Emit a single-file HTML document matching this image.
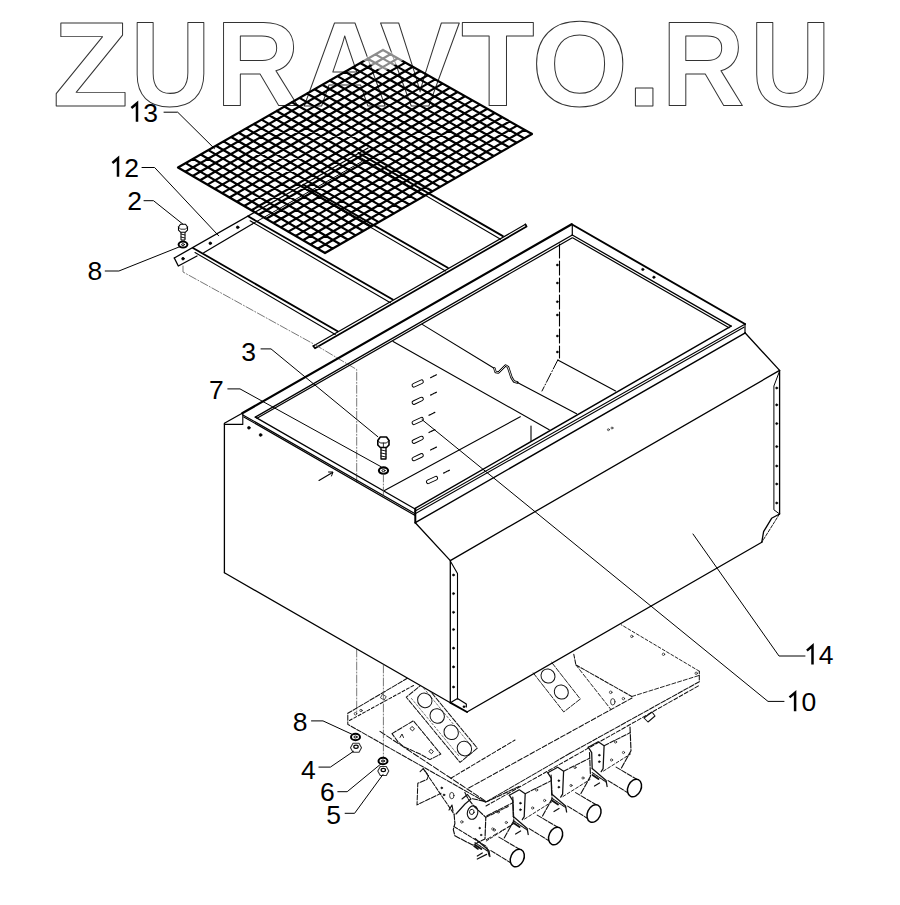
<!DOCTYPE html>
<html><head><meta charset="utf-8"><style>html,body{margin:0;padding:0;background:#fff}svg{display:block}</style></head>
<body><svg width="900" height="905" viewBox="0 0 900 905" stroke-linecap="round" stroke-linejoin="round">
<g font-family="Liberation Sans" font-weight="bold" font-size="120.5" fill="none" stroke="#333" stroke-width="1">
<text x="52" y="106" transform="translate(55.5 0) scale(1.035 1) translate(-55 0)" vector-effect="non-scaling-stroke">Z</text>
<text x="125.59" y="106" transform="translate(136.4 0) scale(0.9205 1) translate(-132 0)" vector-effect="non-scaling-stroke">U</text>
<text x="212.63" y="106" transform="translate(223.3 0) scale(0.968 1) translate(-220.5 0)" vector-effect="non-scaling-stroke">R</text>
<text x="299.64" y="106" transform="translate(333.5 0) scale(1.0 1) translate(-332 0)" vector-effect="non-scaling-stroke">A</text>
<text x="377.72" y="106" transform="translate(380 0) scale(1.0 1) translate(-378 0)" vector-effect="non-scaling-stroke">V</text>
<text x="458.09" y="106" transform="translate(462 0) scale(1.0 1) translate(-459 0)" vector-effect="non-scaling-stroke">T</text>
<text x="529.52" y="106" transform="translate(536 0) scale(1.03 1) translate(-534 0)" vector-effect="non-scaling-stroke">O</text>
<text x="623.25" y="106" transform="translate(635 0) scale(1.03 1) translate(-631 0)" vector-effect="non-scaling-stroke">.</text>
<text x="656.73" y="106" transform="translate(668.5 0) scale(0.956 1) translate(-664 0)" vector-effect="non-scaling-stroke">R</text>
<text x="743.75" y="106" transform="translate(755.8 0) scale(0.927 1) translate(-750 0)" vector-effect="non-scaling-stroke">U</text>
</g>
<polyline points="174.3,258.0 368.0,148.0" fill="none" stroke="#000" stroke-width="1.3" />
<polyline points="252.3,224.0 362.0,161.5" fill="none" stroke="#000" stroke-width="1.0" />
<polyline points="174.3,258.0 178.3,266.0 197.0,256.0" fill="none" stroke="#000" stroke-width="1.3" />
<polyline points="203.7,252.7 252.3,224.0" fill="none" stroke="#000" stroke-width="1.3" />
<circle cx="183.0" cy="258.7" r="1.3" fill="#000" stroke="#000" stroke-width="0.8"/>
<circle cx="210.3" cy="243.3" r="1.3" fill="#000" stroke="#000" stroke-width="0.8"/>
<circle cx="237.7" cy="227.3" r="1.3" fill="#000" stroke="#000" stroke-width="0.8"/>
<polyline points="193.0,248.0 337.6,331.2" fill="none" stroke="#000" stroke-width="1.8" />
<polyline points="195.0,252.5 335.3,334.4" fill="none" stroke="#000" stroke-width="1.1" />
<polyline points="248.1,216.3 392.7,299.5" fill="none" stroke="#000" stroke-width="1.8" />
<polyline points="250.1,220.8 390.4,302.7" fill="none" stroke="#000" stroke-width="1.1" />
<polyline points="303.2,184.6 447.8,267.8" fill="none" stroke="#000" stroke-width="1.8" />
<polyline points="305.2,189.1 445.5,271.0" fill="none" stroke="#000" stroke-width="1.1" />
<polyline points="358.3,152.9 502.9,236.1" fill="none" stroke="#000" stroke-width="1.8" />
<polyline points="360.3,157.4 500.6,239.3" fill="none" stroke="#000" stroke-width="1.1" />
<polyline points="313.3,346.0 525.5,224.3" fill="none" stroke="#000" stroke-width="1.2" />
<polyline points="313.3,346.0 315.0,348.3 526.6,226.6 525.5,224.3" fill="none" stroke="#000" stroke-width="1.7" />
<polyline points="183.0,266.0 183.0,272.0 315.5,345.0 356.7,369.5 356.7,482.0" fill="none" stroke="#555" stroke-width="0.8" stroke-dasharray="8,2,1,2" />
<polyline points="356.7,649.0 356.7,713.0" fill="none" stroke="#555" stroke-width="0.8" stroke-dasharray="8,2,1,2" />
<path d="M178.00,167.50L325.00,253.00M185.59,163.15L332.67,248.59M193.19,158.80L340.33,244.19M200.78,154.44L348.00,239.78M208.37,150.09L355.67,235.37M215.96,145.74L363.33,230.96M223.56,141.39L371.00,226.56M231.15,137.04L378.67,222.15M238.74,132.69L386.33,217.74M246.33,128.33L394.00,213.33M253.93,123.98L401.67,208.93M261.52,119.63L409.33,204.52M269.11,115.28L417.00,200.11M276.70,110.93L424.67,195.70M284.30,106.57L432.33,191.30M291.89,102.22L440.00,186.89M299.48,97.87L447.67,182.48M307.07,93.52L455.33,178.07M314.67,89.17L463.00,173.67M322.26,84.81L470.67,169.26M329.85,80.46L478.33,164.85M337.44,76.11L486.00,160.44M345.04,71.76L493.67,156.04M352.63,67.41L501.33,151.63M360.22,63.06L509.00,147.22M367.81,58.70L516.67,142.81M375.41,54.35L524.33,138.41M383.00,50.00L532.00,134.00M178.00,167.50L383.00,50.00M185.35,171.78L390.45,54.20M192.70,176.05L397.90,58.40M200.05,180.32L405.35,62.60M207.40,184.60L412.80,66.80M214.75,188.88L420.25,71.00M222.10,193.15L427.70,75.20M229.45,197.43L435.15,79.40M236.80,201.70L442.60,83.60M244.15,205.97L450.05,87.80M251.50,210.25L457.50,92.00M258.85,214.53L464.95,96.20M266.20,218.80L472.40,100.40M273.55,223.07L479.85,104.60M280.90,227.35L487.30,108.80M288.25,231.62L494.75,113.00M295.60,235.90L502.20,117.20M302.95,240.18L509.65,121.40M310.30,244.45L517.10,125.60M317.65,248.72L524.55,129.80M325.00,253.00L532.00,134.00" fill="none" stroke="#000" stroke-width="2.2"/>
<polygon points="383,47 362,59.5 383,72 404,59.5" fill="#fff" fill-opacity="0.55"/>
<polyline points="407.8,678.0 347.8,713.3 347.8,724.4 485.6,802.2 570.0,753.3" fill="none" stroke="#111" stroke-width="1.035" stroke-dasharray="5,1.5" />
<polyline points="570.0,753.3 699.3,681.7 699.3,671.2" fill="none" stroke="#111" stroke-width="1.035" stroke-dasharray="5,1.5" />
<polyline points="699.3,671.2 621.3,624.8" fill="none" stroke="#111" stroke-width="0.9199999999999999" stroke-dasharray="3,2" />
<polyline points="349.5,720.5 414.6,684.9" fill="none" stroke="#111" stroke-width="1.035" stroke-dasharray="3,2" />
<polyline points="468.7,788.0 632.0,698.0" fill="none" stroke="#111" stroke-width="1.035" stroke-dasharray="5,2" />
<polyline points="450.9,778.2 515.0,740.0" fill="none" stroke="#111" stroke-width="1.035" stroke-dasharray="4,2" />
<polyline points="486.0,806.0 700.0,685.0" fill="none" stroke="#111" stroke-width="1.035" stroke-dasharray="4,2" />
<circle cx="355.5" cy="713.7" r="1.3" fill="none" stroke="#111" stroke-width="0.7"/>
<circle cx="361.0" cy="710.5" r="1.2" fill="none" stroke="#111" stroke-width="0.7"/>
<rect x="381.5" y="695.3" width="4" height="4" fill="none" stroke="#222" stroke-width="0.7" transform="rotate(30 383.5 697.3)"/>
<g transform="translate(441.8 722.7) rotate(50.5)"><rect x="-42.25" y="-11.2" width="84.5" height="22.4" fill="none" stroke="#111" stroke-width="1.0" stroke-dasharray="5,1.5"/><line x1="-38" y1="-8" x2="38" y2="-8" stroke="#222" stroke-width="0.6" stroke-dasharray="2,2"/><line x1="-38" y1="8" x2="38" y2="8" stroke="#222" stroke-width="0.6" stroke-dasharray="2,2"/></g>
<ellipse cx="424.8" cy="700.4" rx="7.5" ry="7" transform="rotate(50 424.8 700.4)" fill="none" stroke="#111" stroke-width="1.0"/>
<ellipse cx="437.2" cy="716.0" rx="7.5" ry="7" transform="rotate(50 437.2 716.0)" fill="none" stroke="#111" stroke-width="1.0"/>
<ellipse cx="451.2" cy="732.3" rx="7.5" ry="7" transform="rotate(50 451.2 732.3)" fill="none" stroke="#111" stroke-width="1.0"/>
<ellipse cx="464.4" cy="748.6" rx="7.5" ry="7" transform="rotate(50 464.4 748.6)" fill="none" stroke="#111" stroke-width="1.0"/>
<g transform="translate(556 685) rotate(52)"><rect x="-26" y="-10.5" width="52" height="21" fill="none" stroke="#222" stroke-width="0.9" stroke-dasharray="5,1.5"/></g>
<ellipse cx="548.0" cy="676.0" rx="7.3" ry="6.8" transform="rotate(50 548.0 676.0)" fill="none" stroke="#111" stroke-width="1.0"/>
<ellipse cx="561.3" cy="692.0" rx="7.3" ry="6.8" transform="rotate(50 561.3 692.0)" fill="none" stroke="#111" stroke-width="1.0"/>
<polyline points="392.0,733.6 413.4,720.8 440.8,754.1 429.9,759.6 420.0,754.0 404.0,746.9 397.8,741.6 392.0,733.6" fill="none" stroke="#111" stroke-width="1.035" stroke-dasharray="5,1.5" />
<rect x="410.9" y="727.3" width="3" height="3" fill="none" stroke="#111" stroke-width="0.8" transform="rotate(40 412.4 728.8)"/>
<rect x="429.8" y="750.1" width="3" height="3" fill="none" stroke="#111" stroke-width="0.8" transform="rotate(40 431.3 751.6)"/>
<polyline points="400.0,737.5 402.0,734.0 403.5,737.5" fill="none" stroke="#111" stroke-width="0.9199999999999999" />
<polyline points="573.8,654.3 575.9,664.9 631.8,696.5" fill="none" stroke="#111" stroke-width="1.035" stroke-dasharray="4,1.5" />
<polyline points="575.9,664.9 610.7,709.2" fill="none" stroke="#111" stroke-width="0.9199999999999999" stroke-dasharray="4,2" />
<polyline points="631.8,696.5 699.3,675.4" fill="none" stroke="#111" stroke-width="0.9199999999999999" stroke-dasharray="4,2" />
<ellipse cx="612.8" cy="701.8" rx="2.2" ry="3.2" transform="rotate(0 612.8 701.8)" fill="none" stroke="#111" stroke-width="0.8"/>
<circle cx="610.7" cy="692.3" r="1.3" fill="none" stroke="#111" stroke-width="0.7"/>
<circle cx="623.4" cy="698.6" r="1.2" fill="none" stroke="#111" stroke-width="0.7"/>
<circle cx="663.5" cy="654.3" r="1.2" fill="none" stroke="#111" stroke-width="0.7"/>
<circle cx="696.2" cy="673.3" r="1.2" fill="none" stroke="#111" stroke-width="0.7"/>
<circle cx="631.8" cy="636.4" r="1.2" fill="none" stroke="#111" stroke-width="0.7"/>
<polyline points="420.1,771.7 423.2,768.6 428.6,775.5 427.0,779.4 417.8,783.3 417.0,804.9 441.0,793.3" fill="none" stroke="#111" stroke-width="1.035" stroke-dasharray="5,1.5" />
<polyline points="423.2,768.6 454.1,814.2" fill="none" stroke="#111" stroke-width="1.035" stroke-dasharray="4,1.5" />
<circle cx="441.7" cy="787.9" r="0.9" fill="#111" stroke="#111" stroke-width="0.6"/>
<circle cx="444.0" cy="794.9" r="0.9" fill="#111" stroke="#111" stroke-width="0.6"/>
<ellipse cx="451.8" cy="795.6" rx="2.2" ry="3.2" transform="rotate(0 451.8 795.6)" fill="none" stroke="#111" stroke-width="0.8"/>
<polyline points="449.0,810.0 452.0,805.0 453.0,811.0" fill="none" stroke="#111" stroke-width="1.15" />
<polyline points="380.0,731.4 486.6,801.8" fill="none" stroke="#111" stroke-width="1.035" stroke-dasharray="6,2" />
<polyline points="486.9,815.7 512.8,802.8" fill="none" stroke="#111" stroke-width="1.035" stroke-dasharray="5,1.5" />
<polyline points="512.8,797.0 513.8,820.7 503.9,838.6" fill="none" stroke="#111" stroke-width="1.15" stroke-dasharray="6,1.5" />
<polyline points="486.3,841.0 513.3,824.0" fill="none" stroke="#111" stroke-width="0.9199999999999999" stroke-dasharray="3,2" />
<circle cx="494.3" cy="830.0" r="1.1" fill="none" stroke="#111" stroke-width="0.7"/>
<circle cx="506.3" cy="822.5" r="1.1" fill="none" stroke="#111" stroke-width="0.7"/>
<circle cx="498.3" cy="812.0" r="1.1" fill="none" stroke="#111" stroke-width="0.7"/>
<polyline points="475.0,838.6 488.9,850.6 489.9,856.5" fill="none" stroke="#111" stroke-width="1.265" />
<polyline points="475.0,842.6 488.9,852.0" fill="none" stroke="#111" stroke-width="1.035" stroke-dasharray="3,1" />
<polyline points="475.3,845.0 481.3,849.0" fill="none" stroke="#111" stroke-width="1.8399999999999999" />
<polyline points="477.3,856.0 482.3,853.0" fill="none" stroke="#111" stroke-width="1.265" />
<polyline points="498.9,837.1 521.8,850.6" fill="none" stroke="#111" stroke-width="1.035" stroke-dasharray="5,1.5" />
<polyline points="490.9,850.6 511.8,863.5" fill="none" stroke="#111" stroke-width="1.035" stroke-dasharray="5,1.5" />
<ellipse cx="517.3" cy="858.0" rx="6.5" ry="9.2" transform="rotate(25 517.3 858.0)" fill="#fff" stroke="#000" stroke-width="1.5"/>
<polyline points="509.3,795.2 519.3,789.8 525.2,793.7 524.2,816.6 522.3,819.6" fill="none" stroke="#111" stroke-width="1.265" />
<polyline points="509.3,795.2 512.8,800.7 513.3,816.6" fill="none" stroke="#111" stroke-width="1.265" />
<circle cx="520.4" cy="803.2" r="0.9" fill="#111" stroke="#111" stroke-width="0.6"/>
<circle cx="520.4" cy="809.7" r="0.9" fill="#111" stroke="#111" stroke-width="0.6"/>
<polyline points="525.2,793.7 551.1,780.8" fill="none" stroke="#111" stroke-width="1.035" stroke-dasharray="5,1.5" />
<polyline points="551.1,775.0 552.1,798.7 542.2,816.6" fill="none" stroke="#111" stroke-width="1.15" stroke-dasharray="6,1.5" />
<polyline points="524.6,819.0 551.6,802.0" fill="none" stroke="#111" stroke-width="0.9199999999999999" stroke-dasharray="3,2" />
<circle cx="532.6" cy="808.0" r="1.1" fill="none" stroke="#111" stroke-width="0.7"/>
<circle cx="544.6" cy="800.5" r="1.1" fill="none" stroke="#111" stroke-width="0.7"/>
<circle cx="536.6" cy="790.0" r="1.1" fill="none" stroke="#111" stroke-width="0.7"/>
<polyline points="513.3,816.6 527.2,828.6 528.2,834.5" fill="none" stroke="#111" stroke-width="1.265" />
<polyline points="513.3,820.6 527.2,830.0" fill="none" stroke="#111" stroke-width="1.035" stroke-dasharray="3,1" />
<polyline points="513.6,823.0 519.6,827.0" fill="none" stroke="#111" stroke-width="1.8399999999999999" />
<polyline points="515.6,834.0 520.6,831.0" fill="none" stroke="#111" stroke-width="1.265" />
<polyline points="537.2,815.1 560.1,828.6" fill="none" stroke="#111" stroke-width="1.035" stroke-dasharray="5,1.5" />
<polyline points="529.2,828.6 550.1,841.5" fill="none" stroke="#111" stroke-width="1.035" stroke-dasharray="5,1.5" />
<ellipse cx="555.6" cy="836.0" rx="6.5" ry="9.2" transform="rotate(25 555.6 836.0)" fill="#fff" stroke="#000" stroke-width="1.5"/>
<polyline points="547.7,772.7 557.7,767.3 563.6,771.2 562.6,794.1 560.7,797.1" fill="none" stroke="#111" stroke-width="1.265" />
<polyline points="547.7,772.7 551.2,778.2 551.7,794.1" fill="none" stroke="#111" stroke-width="1.265" />
<circle cx="558.8" cy="780.7" r="0.9" fill="#111" stroke="#111" stroke-width="0.6"/>
<circle cx="558.8" cy="787.2" r="0.9" fill="#111" stroke="#111" stroke-width="0.6"/>
<polyline points="563.6,771.2 589.5,758.3" fill="none" stroke="#111" stroke-width="1.035" stroke-dasharray="5,1.5" />
<polyline points="589.5,752.5 590.5,776.2 580.6,794.1" fill="none" stroke="#111" stroke-width="1.15" stroke-dasharray="6,1.5" />
<polyline points="563.0,796.5 590.0,779.5" fill="none" stroke="#111" stroke-width="0.9199999999999999" stroke-dasharray="3,2" />
<circle cx="571.0" cy="785.5" r="1.1" fill="none" stroke="#111" stroke-width="0.7"/>
<circle cx="583.0" cy="778.0" r="1.1" fill="none" stroke="#111" stroke-width="0.7"/>
<circle cx="575.0" cy="767.5" r="1.1" fill="none" stroke="#111" stroke-width="0.7"/>
<polyline points="551.7,794.1 565.6,806.1 566.6,812.0" fill="none" stroke="#111" stroke-width="1.265" />
<polyline points="551.7,798.1 565.6,807.5" fill="none" stroke="#111" stroke-width="1.035" stroke-dasharray="3,1" />
<polyline points="552.0,800.5 558.0,804.5" fill="none" stroke="#111" stroke-width="1.8399999999999999" />
<polyline points="554.0,811.5 559.0,808.5" fill="none" stroke="#111" stroke-width="1.265" />
<polyline points="575.6,792.6 598.5,806.1" fill="none" stroke="#111" stroke-width="1.035" stroke-dasharray="5,1.5" />
<polyline points="567.6,806.1 588.5,819.0" fill="none" stroke="#111" stroke-width="1.035" stroke-dasharray="5,1.5" />
<ellipse cx="594.0" cy="813.5" rx="6.5" ry="9.2" transform="rotate(25 594.0 813.5)" fill="#fff" stroke="#000" stroke-width="1.5"/>
<polyline points="588.2,747.2 598.2,741.8 604.1,745.7 603.1,768.6 601.2,771.6" fill="none" stroke="#111" stroke-width="1.265" />
<polyline points="588.2,747.2 591.7,752.7 592.2,768.6" fill="none" stroke="#111" stroke-width="1.265" />
<circle cx="599.3" cy="755.2" r="0.9" fill="#111" stroke="#111" stroke-width="0.6"/>
<circle cx="599.3" cy="761.7" r="0.9" fill="#111" stroke="#111" stroke-width="0.6"/>
<polyline points="604.1,745.7 630.0,732.8" fill="none" stroke="#111" stroke-width="1.035" stroke-dasharray="5,1.5" />
<polyline points="630.0,727.0 631.0,750.7 621.1,768.6" fill="none" stroke="#111" stroke-width="1.15" stroke-dasharray="6,1.5" />
<polyline points="603.5,771.0 630.5,754.0" fill="none" stroke="#111" stroke-width="0.9199999999999999" stroke-dasharray="3,2" />
<circle cx="611.5" cy="760.0" r="1.1" fill="none" stroke="#111" stroke-width="0.7"/>
<circle cx="623.5" cy="752.5" r="1.1" fill="none" stroke="#111" stroke-width="0.7"/>
<circle cx="615.5" cy="742.0" r="1.1" fill="none" stroke="#111" stroke-width="0.7"/>
<polyline points="592.2,768.6 606.1,780.6 607.1,786.5" fill="none" stroke="#111" stroke-width="1.265" />
<polyline points="592.2,772.6 606.1,782.0" fill="none" stroke="#111" stroke-width="1.035" stroke-dasharray="3,1" />
<polyline points="592.5,775.0 598.5,779.0" fill="none" stroke="#111" stroke-width="1.8399999999999999" />
<polyline points="594.5,786.0 599.5,783.0" fill="none" stroke="#111" stroke-width="1.265" />
<polyline points="616.1,767.1 639.0,780.6" fill="none" stroke="#111" stroke-width="1.035" stroke-dasharray="5,1.5" />
<polyline points="608.1,780.6 629.0,793.5" fill="none" stroke="#111" stroke-width="1.035" stroke-dasharray="5,1.5" />
<ellipse cx="634.5" cy="788.0" rx="6.5" ry="9.2" transform="rotate(25 634.5 788.0)" fill="#fff" stroke="#000" stroke-width="1.5"/>
<polyline points="464.9,792.6 468.0,798.7 474.2,806.5 485.8,817.3 485.0,838.9 472.6,845.1 454.9,835.8 453.3,829.6 454.9,823.5 454.1,814.2" fill="none" stroke="#111" stroke-width="1.15" stroke-dasharray="6,1.5" />
<polyline points="472.6,798.7 486.6,801.8 519.0,786.4" fill="none" stroke="#111" stroke-width="1.15" stroke-dasharray="5,1.5" />
<polyline points="485.8,817.3 508.2,806.5" fill="none" stroke="#111" stroke-width="1.035" stroke-dasharray="4,1.5" />
<ellipse cx="472.6" cy="812.6" rx="5.2" ry="6.8" transform="rotate(15 472.6 812.6)" fill="none" stroke="#111" stroke-width="1.1"/>
<ellipse cx="471.8" cy="811.9" rx="2.3" ry="2.6" transform="rotate(15 471.8 811.9)" fill="none" stroke="#111" stroke-width="0.9"/>
<polyline points="462.0,799.0 467.5,794.5 471.0,799.0 465.0,804.0 456.0,814.0" fill="none" stroke="#111" stroke-width="1.15" />
<circle cx="461.8" cy="821.9" r="1.2" fill="none" stroke="#111" stroke-width="0.7"/>
<circle cx="479.6" cy="828.1" r="0.8" fill="#111" stroke="#111" stroke-width="0.6"/>
<circle cx="481.1" cy="835.0" r="0.8" fill="#111" stroke="#111" stroke-width="0.6"/>
<circle cx="492.7" cy="828.9" r="1.1" fill="none" stroke="#111" stroke-width="0.6"/>
<polyline points="454.1,826.6 486.6,846.6 489.6,857.5" fill="none" stroke="#111" stroke-width="1.035" stroke-dasharray="4,1.5" />
<polyline points="474.0,846.0 478.0,849.0" fill="none" stroke="#111" stroke-width="1.6099999999999999" />
<polyline points="477.3,859.0 486.6,854.4" fill="none" stroke="#111" stroke-width="1.265" />
<polyline points="486.4,839.6 515.0,823.0" fill="none" stroke="#111" stroke-width="0.9199999999999999" stroke-dasharray="5,3" />
<polyline points="644.0,718.0 652.0,712.0 655.0,716.0 648.0,722.0 644.0,718.0" fill="none" stroke="#111" stroke-width="1.035" />
<polygon points="224.4,423.3 415.3,522.7 745.3,332.8 779.6,370.4 779.6,514 761.8,542.2 466,710 450.3,702.7 224.4,572.7" fill="#fff" stroke="none"/>
<polyline points="242.2,413.3 571.7,224.3" fill="none" stroke="#000" stroke-width="2.2" />
<polyline points="571.7,224.3 745.0,324.0" fill="none" stroke="#000" stroke-width="1.9" />
<polyline points="572.3,224.3 572.3,235.0" fill="none" stroke="#000" stroke-width="1.2" />
<polyline points="745.0,324.0 745.0,332.8" fill="none" stroke="#000" stroke-width="1.2" />
<polyline points="255.3,417.1 572.3,235.0" fill="none" stroke="#000" stroke-width="1.3" />
<polyline points="257.0,418.3 572.3,237.8" fill="none" stroke="#000" stroke-width="1.2" />
<polyline points="572.3,235.0 731.1,326.1" fill="none" stroke="#000" stroke-width="1.3" />
<polyline points="573.0,238.0 729.0,327.8" fill="none" stroke="#000" stroke-width="1.2" />
<polyline points="731.1,326.1 414.7,508.7" fill="none" stroke="#000" stroke-width="1.4" />
<polyline points="745.3,323.9 414.7,511.3" fill="none" stroke="#000" stroke-width="1.1" />
<polyline points="743.9,327.2 414.7,514.0" fill="none" stroke="#000" stroke-width="1.1" />
<polyline points="415.3,522.7 745.3,332.8" fill="none" stroke="#000" stroke-width="1.4" />
<polyline points="415.3,508.7 415.3,522.7" fill="none" stroke="#000" stroke-width="2.0" />
<polyline points="242.9,414.9 414.7,513.5" fill="none" stroke="#000" stroke-width="1.2" />
<polyline points="243.8,416.9 414.7,515.3" fill="none" stroke="#000" stroke-width="1.2" />
<polyline points="255.3,417.1 414.7,508.7" fill="none" stroke="#000" stroke-width="1.3" />
<polyline points="224.4,572.7 224.4,423.3 242.2,413.3" fill="none" stroke="#000" stroke-width="1.3" />
<polyline points="224.4,424.4 242.8,424.4 242.8,414.0" fill="none" stroke="#000" stroke-width="1.1" />
<circle cx="248.9" cy="427.8" r="1.4" fill="#000" stroke="#000" stroke-width="0.6"/>
<circle cx="260.6" cy="435.0" r="1.4" fill="#000" stroke="#000" stroke-width="0.6"/>
<polyline points="415.3,522.7 450.3,560.6 779.6,370.4 745.0,332.8" fill="none" stroke="#000" stroke-width="1.3" />
<polyline points="450.3,560.6 450.3,702.7 224.4,572.7" fill="none" stroke="#000" stroke-width="1.3" />
<polyline points="779.6,370.4 779.6,514.0" fill="none" stroke="#000" stroke-width="1.3" />
<polyline points="761.8,542.2 467.0,712.0" fill="none" stroke="#000" stroke-width="1.3" />
<polyline points="450.3,702.7 467.0,712.0" fill="none" stroke="#000" stroke-width="1.9" />
<polyline points="450.3,561.0 457.5,573.5 457.5,699.0" fill="none" stroke="#000" stroke-width="1.1" />
<polyline points="779.6,371.0 773.9,386.0 773.9,509.8 779.6,514.0" fill="none" stroke="#000" stroke-width="1.0" />
<circle cx="453.5" cy="575.0" r="1.1" fill="#000" stroke="#000" stroke-width="0.5"/>
<circle cx="453.5" cy="593.6" r="1.1" fill="#000" stroke="#000" stroke-width="0.5"/>
<circle cx="453.5" cy="612.3" r="1.1" fill="#000" stroke="#000" stroke-width="0.5"/>
<circle cx="453.5" cy="629.5" r="1.1" fill="#000" stroke="#000" stroke-width="0.5"/>
<circle cx="453.5" cy="648.2" r="1.1" fill="#000" stroke="#000" stroke-width="0.5"/>
<circle cx="453.5" cy="666.9" r="1.1" fill="#000" stroke="#000" stroke-width="0.5"/>
<circle cx="453.5" cy="687.0" r="1.1" fill="#000" stroke="#000" stroke-width="0.5"/>
<circle cx="776.7" cy="388.0" r="1.1" fill="#000" stroke="#000" stroke-width="0.5"/>
<circle cx="776.7" cy="404.9" r="1.1" fill="#000" stroke="#000" stroke-width="0.5"/>
<circle cx="776.7" cy="423.6" r="1.1" fill="#000" stroke="#000" stroke-width="0.5"/>
<circle cx="776.7" cy="446.6" r="1.1" fill="#000" stroke="#000" stroke-width="0.5"/>
<circle cx="776.7" cy="466.0" r="1.1" fill="#000" stroke="#000" stroke-width="0.5"/>
<circle cx="776.7" cy="484.0" r="1.1" fill="#000" stroke="#000" stroke-width="0.5"/>
<circle cx="776.7" cy="503.0" r="1.1" fill="#000" stroke="#000" stroke-width="0.5"/>
<polyline points="450.3,702.7 457.5,698.5 466.3,704.0 466.3,707.0" fill="none" stroke="#000" stroke-width="1.2" />
<circle cx="464.0" cy="706.7" r="1.0" fill="#000" stroke="#000" stroke-width="0.6"/>
<polyline points="779.5,514.0 771.6,518.3 763.6,531.6 761.8,542.2" fill="none" stroke="#000" stroke-width="1.3" />
<polyline points="779.5,514.0 761.8,542.2" fill="none" stroke="#000" stroke-width="0.9" stroke-dasharray="3,1.5" />
<circle cx="608.4" cy="429.7" r="1.0" fill="none" stroke="#000" stroke-width="0.6"/>
<circle cx="612.0" cy="428.0" r="1.0" fill="none" stroke="#000" stroke-width="0.6"/>
<circle cx="642.8" cy="269.4" r="1.2" fill="#000" stroke="#000" stroke-width="0.5"/>
<circle cx="653.9" cy="277.2" r="1.2" fill="#000" stroke="#000" stroke-width="0.5"/>
<polyline points="319.0,480.5 332.5,472.5" fill="none" stroke="#000" stroke-width="1.1" />
<polyline points="328.5,472.0 333.0,472.0 331.5,476.0" fill="none" stroke="#000" stroke-width="1.0" />
<polyline points="559.5,244.0 559.5,358.0" fill="none" stroke="#000" stroke-width="1.1" stroke-dasharray="14,3" />
<circle cx="557.3" cy="265.0" r="1.0" fill="#000" stroke="#000" stroke-width="0.5"/>
<circle cx="557.3" cy="283.0" r="1.0" fill="#000" stroke="#000" stroke-width="0.5"/>
<circle cx="557.3" cy="301.7" r="1.0" fill="#000" stroke="#000" stroke-width="0.5"/>
<circle cx="557.3" cy="315.0" r="1.0" fill="#000" stroke="#000" stroke-width="0.5"/>
<circle cx="557.3" cy="336.0" r="1.0" fill="#000" stroke="#000" stroke-width="0.5"/>
<circle cx="557.3" cy="352.0" r="1.0" fill="#000" stroke="#000" stroke-width="0.5"/>
<polyline points="557.8,360.0 615.6,391.0" fill="none" stroke="#000" stroke-width="1.1" />
<polyline points="557.8,360.0 542.0,391.0" fill="none" stroke="#000" stroke-width="1.0" stroke-dasharray="10,2,1,2" />
<polyline points="393.1,341.6 549.2,429.7" fill="none" stroke="#000" stroke-width="1.1" />
<polyline points="422.2,324.4 494.5,368.5" fill="none" stroke="#000" stroke-width="1.1" />
<polyline points="494.5,368.5 495.5,372.0 498.5,372.5 505.5,365.5 508.0,367.0 511.5,377.5 514.0,381.5 517.4,382.5" fill="none" stroke="#000" stroke-width="2.4" />
<polyline points="494.5,368.5 495.5,372.0 498.5,372.5 505.5,365.5 508.0,367.0 511.5,377.5 514.0,381.5 517.4,382.5" fill="none" stroke="#fff" stroke-width="0.8" />
<polyline points="517.4,382.5 576.6,413.8" fill="none" stroke="#000" stroke-width="1.1" />
<polyline points="520.3,416.7 384.5,490.4" fill="none" stroke="#000" stroke-width="1.1" />
<polyline points="531.0,426.0 531.0,441.3" fill="none" stroke="#000" stroke-width="1.1" />
<rect x="411.7" y="381.7" width="12" height="3.6" rx="1.8" transform="rotate(-25 417.7 383.5)" fill="none" stroke="#000" stroke-width="1"/>
<rect x="411.7" y="399.0" width="12" height="3.6" rx="1.8" transform="rotate(-25 417.7 400.8)" fill="none" stroke="#000" stroke-width="1"/>
<rect x="411.7" y="419.2" width="12" height="3.6" rx="1.8" transform="rotate(-25 417.7 421)" fill="none" stroke="#000" stroke-width="1"/>
<rect x="411.7" y="438.0" width="12" height="3.6" rx="1.8" transform="rotate(-25 417.7 439.8)" fill="none" stroke="#000" stroke-width="1"/>
<rect x="411.7" y="455.4" width="12" height="3.6" rx="1.8" transform="rotate(-25 417.7 457.2)" fill="none" stroke="#000" stroke-width="1"/>
<rect x="426.0" y="478.2" width="12" height="3.6" rx="1.8" transform="rotate(-25 432 480)" fill="none" stroke="#000" stroke-width="1"/>
<polyline points="430.6,377.7 436.6,374.7" fill="none" stroke="#000" stroke-width="1.2" stroke-dasharray="1.5,1" />
<polyline points="430.6,395.1 436.6,392.1" fill="none" stroke="#000" stroke-width="1.2" stroke-dasharray="1.5,1" />
<polyline points="429.0,415.3 435.0,412.3" fill="none" stroke="#000" stroke-width="1.2" stroke-dasharray="1.5,1" />
<polyline points="429.0,432.5 435.0,429.5" fill="none" stroke="#000" stroke-width="1.2" stroke-dasharray="1.5,1" />
<polyline points="430.6,450.0 436.6,447.0" fill="none" stroke="#000" stroke-width="1.2" stroke-dasharray="1.5,1" />
<polyline points="443.6,473.1 449.6,470.1" fill="none" stroke="#000" stroke-width="1.2" stroke-dasharray="1.5,1" />
<path d="M381,447 v12 h5 v-12" fill="#fff" stroke="#000" stroke-width="1.3"/>
<polyline points="381.0,450.0 386.0,451.0" fill="none" stroke="#000" stroke-width="0.9" />
<polyline points="381.0,453.0 386.0,454.0" fill="none" stroke="#000" stroke-width="0.9" />
<polyline points="381.0,456.0 386.0,457.0" fill="none" stroke="#000" stroke-width="0.9" />
<path d="M377.8,440.5 l2.5,-3.5 h6.2 l2.5,3.5 v4.5 l-2.5,2.5 h-6.2 l-2.5,-2.5 Z" fill="#fff" stroke="#000" stroke-width="1.6"/>
<polyline points="377.8,440.5 380.3,443.0 386.5,443.0 389.0,440.5" fill="none" stroke="#000" stroke-width="0.9" />
<polyline points="383.4,443.0 383.4,447.0" fill="none" stroke="#000" stroke-width="0.8" />
<ellipse cx="383.5" cy="470.6" rx="4.6" ry="3.2" transform="rotate(0 383.5 470.6)" fill="#fff" stroke="#000" stroke-width="2.1"/>
<ellipse cx="383.5" cy="470.6" rx="1.6" ry="1.0" transform="rotate(0 383.5 470.6)" fill="none" stroke="#000" stroke-width="0.9"/>
<polyline points="383.4,474.0 383.4,497.0" fill="none" stroke="#555" stroke-width="0.8" stroke-dasharray="8,2,1,2" />
<polyline points="383.4,665.0 383.4,757.0" fill="none" stroke="#555" stroke-width="0.8" stroke-dasharray="8,2,1,2" />
<path d="M181,231 v9 h4 v-9" fill="#fff" stroke="#000" stroke-width="1.0"/>
<polyline points="181.0,234.0 185.0,235.0" fill="none" stroke="#000" stroke-width="0.9" />
<polyline points="181.0,237.0 185.0,238.0" fill="none" stroke="#000" stroke-width="0.9" />
<path d="M178.5,227 l2,-2.8 h5 l2,2.8 v3.2 l-2,2 h-5 l-2,-2 Z" fill="#fff" stroke="#000" stroke-width="1.1"/>
<polyline points="178.5,227.0 180.5,229.2 185.5,229.2 187.5,227.0" fill="none" stroke="#000" stroke-width="0.8" />
<ellipse cx="183.0" cy="244.6" rx="4.4" ry="3.0" transform="rotate(0 183.0 244.6)" fill="#fff" stroke="#000" stroke-width="2.0"/>
<ellipse cx="183.0" cy="244.6" rx="1.5" ry="0.9" transform="rotate(0 183.0 244.6)" fill="none" stroke="#000" stroke-width="0.9"/>
<ellipse cx="355.5" cy="737.0" rx="4.5" ry="3.2" transform="rotate(0 355.5 737.0)" fill="#fff" stroke="#000" stroke-width="2.0"/>
<ellipse cx="355.5" cy="737.0" rx="1.6" ry="1.0" transform="rotate(0 355.5 737.0)" fill="none" stroke="#000" stroke-width="1.0"/>
<ellipse cx="383.0" cy="761.0" rx="4.5" ry="3.2" transform="rotate(0 383.0 761.0)" fill="#fff" stroke="#000" stroke-width="2.0"/>
<ellipse cx="383.0" cy="761.0" rx="1.6" ry="1.0" transform="rotate(0 383.0 761.0)" fill="none" stroke="#000" stroke-width="1.0"/>
<polygon points="350.5,747.7 353,743.2 359,743.2 361.5,747.7 359,752.2 353,752.2" fill="#fff" stroke="#333" stroke-width="1.1"/>
<ellipse cx="356.0" cy="746.7" rx="2.2" ry="1.6" transform="rotate(0 356.0 746.7)" fill="none" stroke="#000" stroke-width="1.2"/>
<polygon points="377.8,771 380.3,766.5 386.3,766.5 388.8,771 386.3,775.5 380.3,775.5" fill="#fff" stroke="#333" stroke-width="1.1"/>
<ellipse cx="383.3" cy="770.0" rx="2.2" ry="1.6" transform="rotate(0 383.3 770.0)" fill="none" stroke="#000" stroke-width="1.2"/>
<g font-family="Liberation Sans" fill="#000" font-size="26.5">
<path d="M137.0,121.8V103.2L131.4,108.0" fill="none" stroke="#000" stroke-width="2.5" stroke-linejoin="miter" stroke-linecap="butt"/>
<text x="143.3" y="121.8">3</text>
<path d="M118.0,176.8V158.2L112.4,163.0" fill="none" stroke="#000" stroke-width="2.5" stroke-linejoin="miter" stroke-linecap="butt"/>
<text x="124.3" y="176.8">2</text>
<text x="127.3" y="209.6">2</text>
<text x="87.4" y="280.2">8</text>
<text x="241.2" y="361.3">3</text>
<text x="209.0" y="399.2">7</text>
<path d="M812.5,664.4V645.8L806.9,650.6" fill="none" stroke="#000" stroke-width="2.5" stroke-linejoin="miter" stroke-linecap="butt"/>
<text x="818.8" y="664.4">4</text>
<path d="M795.1,711.2V692.6L789.5,697.4" fill="none" stroke="#000" stroke-width="2.5" stroke-linejoin="miter" stroke-linecap="butt"/>
<text x="801.4" y="711.2">0</text>
<text x="292.7" y="730.5">8</text>
<text x="301.0" y="778.8">4</text>
<text x="320.0" y="800.8">6</text>
<text x="326.3" y="823.9">5</text>
</g>
<polyline points="164.0,112.2 177.7,112.2 214.5,148.6" fill="none" stroke="#000" stroke-width="1.0" />
<polyline points="142.0,167.5 154.6,167.5 218.7,235.8" fill="none" stroke="#000" stroke-width="1.0" />
<polyline points="144.0,200.7 153.5,200.7 183.0,224.2" fill="none" stroke="#000" stroke-width="1.0" />
<polyline points="105.2,271.0 118.9,271.0 180.8,246.3" fill="none" stroke="#000" stroke-width="1.0" />
<polyline points="261.0,348.9 271.0,348.9 377.8,436.7" fill="none" stroke="#000" stroke-width="1.0" />
<polyline points="227.8,388.9 240.0,388.9 381.0,466.7" fill="none" stroke="#000" stroke-width="1.0" />
<polyline points="805.0,656.0 779.0,656.0 693.0,534.0" fill="none" stroke="#000" stroke-width="1.0" />
<polyline points="784.0,701.4 768.0,701.4 422.0,419.6" fill="none" stroke="#000" stroke-width="1.0" />
<polyline points="311.5,720.9 323.0,720.9 352.5,734.5" fill="none" stroke="#000" stroke-width="1.0" />
<polyline points="318.9,767.1 330.4,767.1 353.5,751.3" fill="none" stroke="#000" stroke-width="1.0" />
<polyline points="337.8,791.7 347.2,791.7 380.8,764.0" fill="none" stroke="#000" stroke-width="1.0" />
<polyline points="345.1,813.3 354.6,813.3 383.0,774.5" fill="none" stroke="#000" stroke-width="1.0" />
</svg></body></html>
